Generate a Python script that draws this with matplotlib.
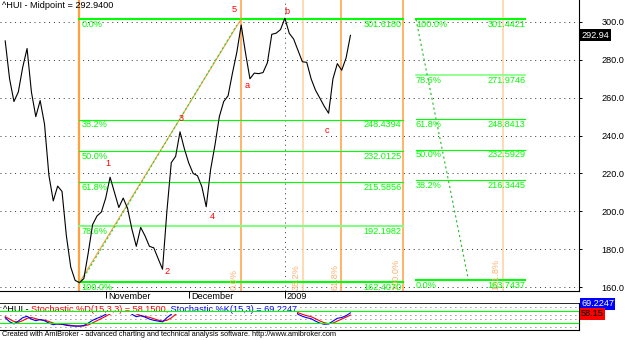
import matplotlib
matplotlib.use("Agg")
import matplotlib.pyplot as plt
import matplotlib.transforms as mtransforms

plt.rcParams["font.family"] = ["Liberation Sans", "DejaVu Sans"]
plt.rcParams["font.size"] = 6.6

# ---------------------------------------------------------------------------
# data (one value per trading bar, ^HUI midpoint, Oct 2008 -> Jan 2009)
# ---------------------------------------------------------------------------
midpoint = [
    290, 270, 258, 263, 276, 286, 263, 250, 258.5, 246,
    219, 205.5, 213.3, 210.5, 187, 170.5, 163.5, 162.3, 164.5, 178,
    193, 197.5, 199.6, 207, 218, 210, 202, 207, 201.6, 190.5,
    181.5, 191.5, 187, 181.5, 180.7, 175, 169.4, 200, 225.7, 229,
    242, 233, 225.5, 220, 218.8, 213, 202.4, 222, 235, 250,
    258, 261, 273, 284, 298.4, 283.5, 270, 273, 272.7, 273.3,
    278.5, 293.5, 294.1, 296, 302, 294, 291, 285, 279, 278.7,
    270, 264, 259.8, 255.5, 251.8, 270, 278, 274.5, 281, 292.94,
]
stoch_k = [
    45, 25, 14, 28, 45, 52, 38, 30, 36, 30,
    18, 10, 14, 12, 7, 4, 3, 3, 6, 18,
    32, 42, 50, 62, 80, 88, 85, 84, 82, 62,
    50, 55, 48, 38, 32, 28, 24, 45, 62, 80,
    88, 90, 86, 80, 78, 74, 72, 80, 86, 92,
    94, 95, 97, 98, 99, 92, 85, 84, 84, 85,
    88, 93, 94, 95, 97, 92, 86, 62, 52, 45,
    40, 28, 18, 12, 14, 28, 42, 46, 55, 69.2247,
]
stoch_d = [
    50, 38, 26, 22, 30, 42, 46, 40, 34, 33,
    26, 18, 13, 12, 10, 7, 4, 3, 4, 9,
    19, 30, 41, 52, 64, 76, 84, 86, 84, 76,
    64, 56, 51, 47, 40, 33, 28, 32, 44, 62,
    76, 86, 88, 86, 82, 77, 74, 75, 79, 86,
    90, 94, 95, 97, 98, 96, 91, 87, 84, 84,
    85, 89, 92, 94, 95, 95, 92, 70, 62, 55,
    50, 40, 29, 20, 15, 18, 28, 38, 48, 58.15,
]

month_ticks = [23, 42, 64]
month_labels = ["November", "December", "2009"]

# Fibonacci retracement #1 (low bar -> high bar)
fib_low_bar, fib_high_bar = 17, 54
fib_low_val, fib_high_val = 162.4070, 301.6180
fib1_pct = ["0.0%", "38.2%", "50.0%", "61.8%", "78.6%", "100.0%"]
fib1_val = [301.6180, 248.4394, 232.0125, 215.5856, 192.1982, 162.4070]

# Fibonacci retracement #2 (projection on the right)
fib2_start, fib2_end = 94, 119
fib2_pct = ["100.0%", "78.6%", "61.8%", "50.0%", "38.2%", "0.0%"]
fib2_val = [301.4421, 271.9746, 248.8413, 232.5929, 216.3445, 163.7437]
fib2_diag_end = 106

# Fibonacci time zones
tz_ratio = [0.0, 0.382, 0.618, 1.0, 1.618]
tz_label = ["0.0%", "38.2%", "61.8%", "100.0%", "161.8%"]

# Elliott wave labels (bar, value)
wave_text = ["1", "2", "3", "4", "5", "a", "b", "c"]
wave_bar = [23.5, 37, 40.2, 47.3, 52.3, 55.4, 64.5, 73.7]
wave_val = [225.4, 168.1, 249.1, 197.2, 306.7, 266.2, 305.4, 242.9]

y_ticks = [300, 280, 260, 240, 220, 200, 180, 160]

# ---------------------------------------------------------------------------
W, H = 625, 340
GREEN = "#00ff00"
LGREEN = "#80ff80"
ORANGE = "#ff9f40"
LORANGE = "#ffd0a0"
ORTXT = "#ffb070"


def px_rect(x0, y0, x1, y1):
    return [x0 / W, 1 - y1 / H, (x1 - x0) / W, (y1 - y0) / H]


fig = plt.figure(figsize=(W / 100, H / 100), dpi=100)
fig.patch.set_facecolor("white")

ax = fig.add_axes(px_rect(0, 0, 579, 291))
ax2 = fig.add_axes(px_rect(0, 302.7, 579, 330))

xlim = (-1.19, 131.3)
bars = list(range(len(midpoint)))

# ---------------- main pane ----------------
ax.set_xlim(*xlim)
ax.set_ylim(157.9, 311.62)
for s in ("top", "left"):
    ax.spines[s].set_visible(False)
for s in ("right", "bottom"):
    ax.spines[s].set_linewidth(0.8)

for v in y_ticks:
    ax.axhline(v, color="#303030", lw=0.7, ls=(0, (1, 4)), zorder=1)
ax.axvline(month_ticks[2], color="#303030", lw=0.7, ls=(0, (1, 4)), zorder=1)

ax.yaxis.tick_right()
ax.set_yticks(y_ticks)
ax.set_yticklabels([f"{v:.1f}" for v in y_ticks])
ax.tick_params(axis="y", length=2.5, width=0.7, pad=13.5, labelsize=6.6)
ax.set_xticks(month_ticks)
ax.tick_params(axis="x", length=5, width=0.7, labelbottom=False)
for xb, lab in zip(month_ticks, month_labels):
    ax.annotate(lab, xy=(xb, 0), xycoords=("data", "axes fraction"),
                xytext=(1.5, -4.3), textcoords="offset points",
                ha="left", va="center", fontsize=6.6, annotation_clip=False)

# time zones
span = fib_high_bar - fib_low_bar
ax.axvline(fib_low_bar, color=ORANGE, lw=1.6, zorder=2)
tz_colors = [ORANGE, LORANGE, ORANGE, ORANGE, LORANGE]
for r, lab, c in zip(tz_ratio, tz_label, tz_colors):
    xb = fib_high_bar + r * span
    ax.axvline(xb, color=c, lw=1.1, zorder=2)
    ax.annotate(lab, xy=(xb, 0), xycoords=("data", "axes fraction"),
                xytext=(-1.5, 1), textcoords="offset points", rotation=90,
                ha="right", va="bottom", color=ORTXT, fontsize=6.6)

# retracement 1
fib1_lw = [1.5, 0.8, 0.8, 0.8, 1.5, 1.5]
fib1_col = [GREEN, GREEN, GREEN, GREEN, LGREEN, GREEN]
x_end1 = fib_high_bar + span
for p, v, lw, c in zip(fib1_pct, fib1_val, fib1_lw, fib1_col):
    ax.plot([fib_low_bar, x_end1], [v, v], color=c, lw=lw, zorder=2)
    ax.annotate(p, xy=(fib_low_bar, v), xytext=(1.5, -0.6),
                textcoords="offset points", ha="left", va="top", color=GREEN)
    ax.annotate(f"{v:.4f}", xy=(x_end1, v), xytext=(-1, -0.6),
                textcoords="offset points", ha="right", va="top", color=GREEN)

# retracement 2
fib2_lw = [1.5, 1.2, 0.8, 0.8, 0.8, 1.5]
fib2_col = [GREEN, LGREEN, GREEN, GREEN, GREEN, GREEN]
for p, v, lw, c in zip(fib2_pct, fib2_val, fib2_lw, fib2_col):
    ax.plot([fib2_start, fib2_end], [v, v], color=c, lw=lw, zorder=2)
    ax.annotate(p, xy=(fib2_start, v), xytext=(0, -0.6),
                textcoords="offset points", ha="left", va="top", color=GREEN)
    ax.annotate(f"{v:.4f}", xy=(fib2_end, v), xytext=(0, -0.6),
                textcoords="offset points", ha="right", va="top", color=GREEN)
ax.plot([fib2_start, fib2_diag_end], [fib2_val[0], fib2_val[-1]],
        color="#20c020", lw=0.8, ls=(0, (2, 2.5)), zorder=2)

# trend lines low -> high
ax.plot([fib_low_bar, fib_high_bar], [fib_low_val, fib_high_val],
        color=ORANGE, lw=0.8, zorder=3)
ax.plot([fib_low_bar + 0.5, fib_high_bar - 1], [163.2, 298.4],
        color="#30d030", lw=0.8, ls=(0, (2, 2)), zorder=3)

# price
ax.plot(bars, midpoint, color="black", lw=0.8, zorder=4)

for t, xb, v in zip(wave_text, wave_bar, wave_val):
    ax.text(xb, v, t, color="red", ha="center", va="center", fontsize=6.6, zorder=5)

ax.text(2 / 579, 1 - 1 / 291, "^HUI - Midpoint = 292.9400", transform=ax.transAxes,
        ha="left", va="top", fontsize=6.6)

trans = mtransforms.blended_transform_factory(ax.transAxes, ax.transData)
ax.text(1 + 2.5 / 579, midpoint[-1], f"{midpoint[-1]:.2f}", transform=trans,
        ha="left", va="center", color="white", fontsize=6.6,
        bbox=dict(boxstyle="square,pad=0.15", fc="black", ec="none"))

# ---------------- stochastic pane ----------------
ax2.set_xlim(*xlim)
ax2.set_ylim(-16.5, 120)
for s in ("top", "left"):
    ax2.spines[s].set_visible(False)
ax2.spines["bottom"].set_linewidth(0.8)
ax2.spines["right"].set_linewidth(0.8)
ax2.set_xticks([])
ax2.set_yticks([])
ax2.axhline(120, color="black", lw=1.2)
for v in range(0, 101, 20):
    ax2.axhline(v, color="#303030", lw=0.6, ls=(0, (1, 5)), zorder=1)
ax2.plot(bars, stoch_d, color="red", lw=0.8, zorder=2)
ax2.plot(bars, stoch_k, color="blue", lw=0.8, zorder=2)
ax2.axhline(80, color=GREEN, lw=0.8, zorder=4)
ax2.axhline(20, color=GREEN, lw=0.8, zorder=4)

pieces = [("^HUI - ", "black"), ("Stochastic %D(15,3,3) = 58.1500,", "red"),
          (" Stochastic %K(15,3) = 69.2247", "blue")]
fig.canvas.draw()
renderer = fig.canvas.get_renderer()
xpos = 3.0
for s, c in pieces:
    t = ax2.text(xpos / W, 1 - 309.3 / H, s, color=c, ha="left", va="center",
                 fontsize=6.6, zorder=3, transform=fig.transFigure,
                 bbox=dict(boxstyle="square,pad=0", fc="white", ec="none"))
    xpos += t.get_window_extent(renderer).width

fig.text(581 / W, 1 - 304 / H, "69.2247", color="white", ha="left", va="center",
         fontsize=6.6, bbox=dict(boxstyle="square,pad=0.15", fc="#0000ff", ec="none"))
fig.text(581 / W, 1 - 313.8 / H, "58.15", color="black", ha="left", va="center",
         fontsize=6.6, bbox=dict(boxstyle="square,pad=0.15", fc="#ff0000", ec="none"))

fig.text(2 / W, 1 - 335 / H,
         "Created with AmiBroker - advanced charting and technical analysis software. "
         "http://www.amibroker.com", ha="left", va="center", fontsize=5.3)

fig.savefig("out.png", dpi=100)
